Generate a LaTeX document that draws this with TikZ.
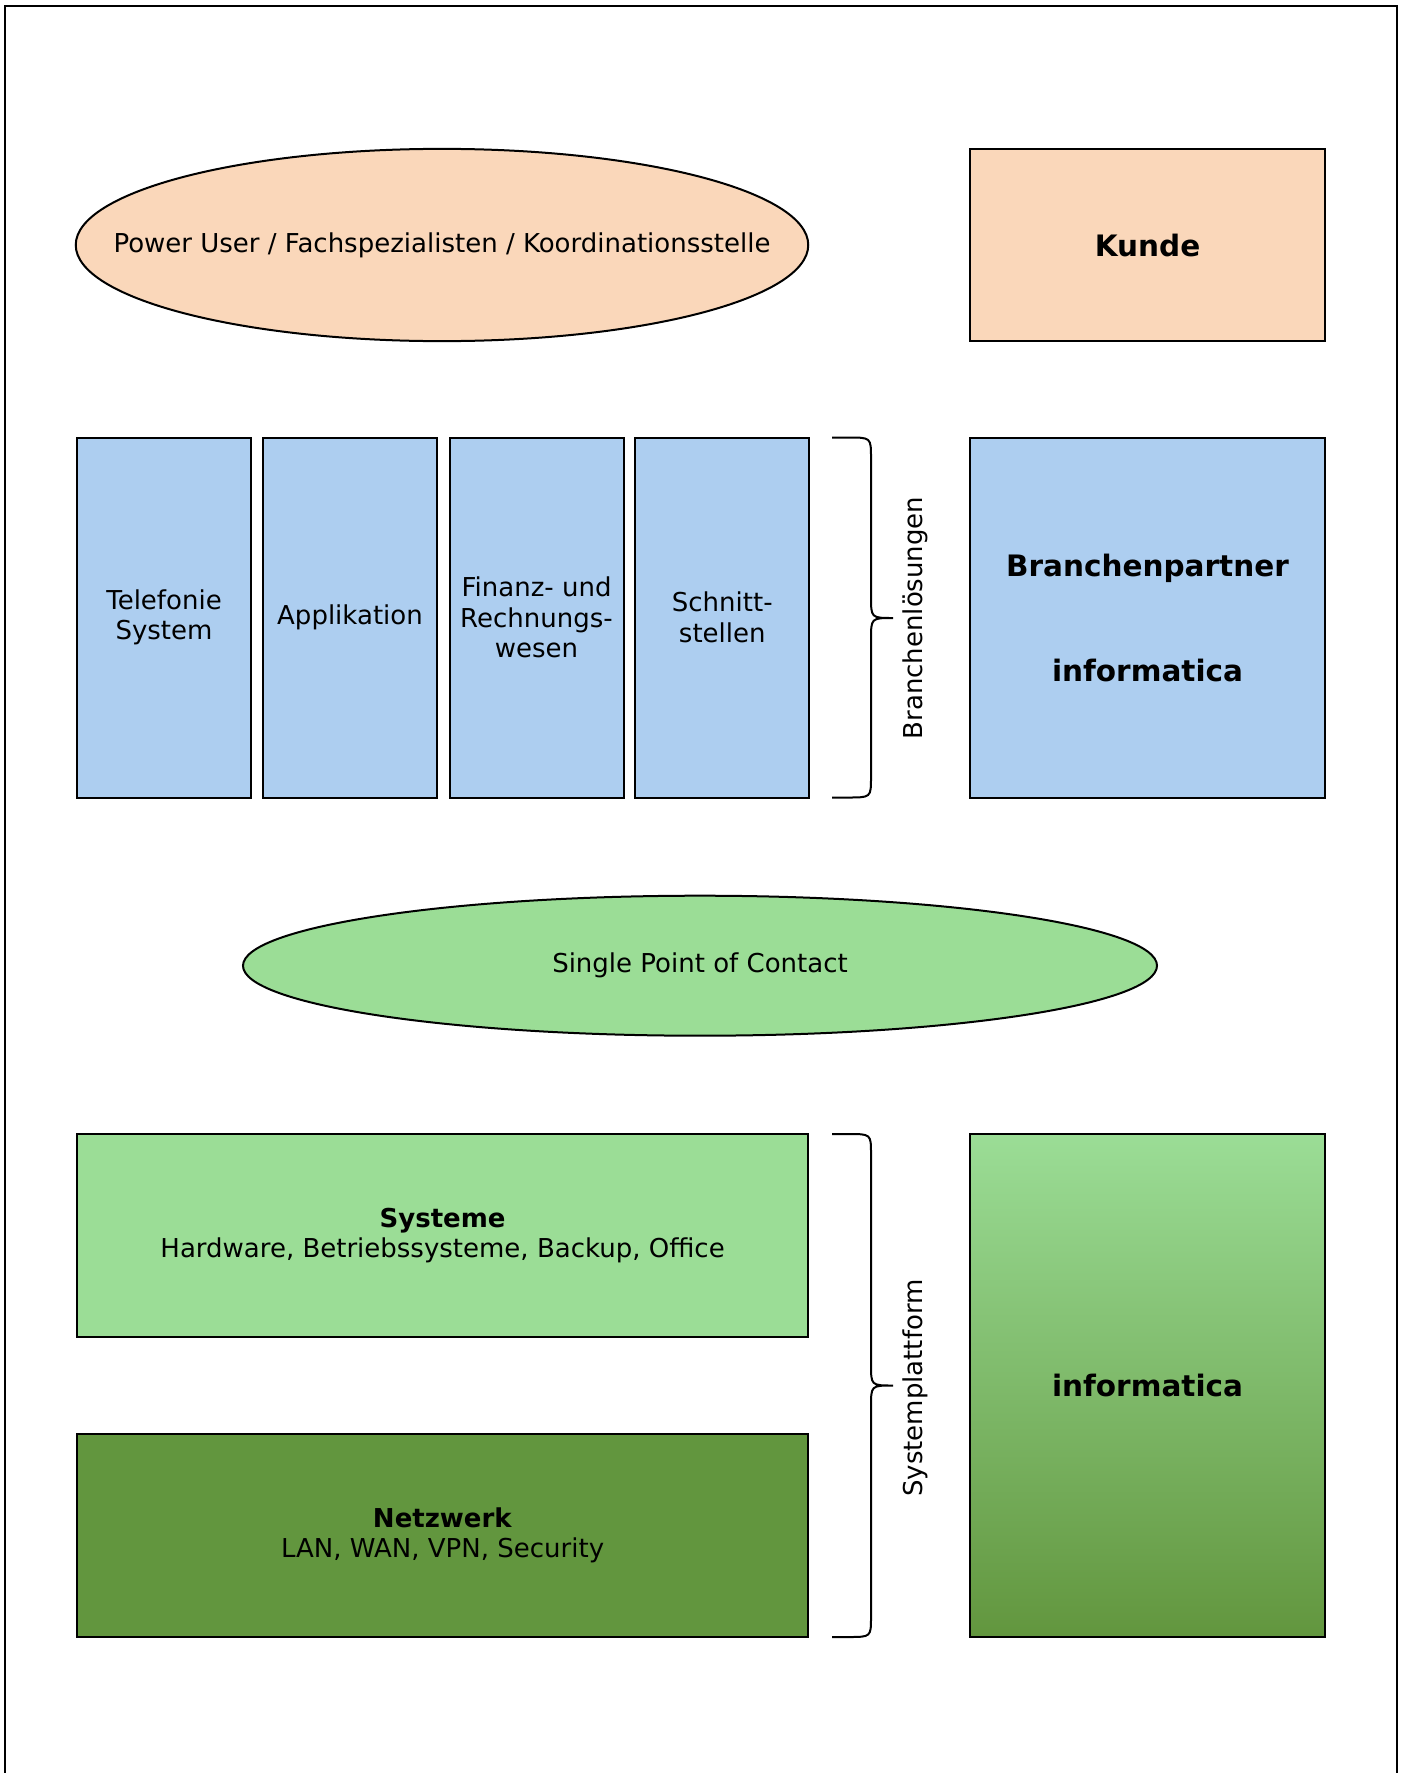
\documentclass[tikz,border=0pt]{standalone}
\usepackage{fontspec}
\setmainfont{DejaVu Sans}
\usepackage{tikz}
\usetikzlibrary{shapes.geometric,positioning}

\definecolor{peach}{RGB}{250,215,186}
\definecolor{lightblue}{RGB}{173,206,240}
\definecolor{lightgreen}{RGB}{155,221,150}
\definecolor{darkgreen}{RGB}{98,150,62}

\begin{document}
\begin{tikzpicture}[x=0.4pt,y=-0.4pt,line width=0.8pt,font=\fontsize{10.4}{12.2}\selectfont,
  box/.style={draw, rectangle, inner sep=0pt, align=center},
  oval/.style={draw, ellipse, inner sep=0pt, align=center},
  col/.style={box, fill=lightblue, minimum width=69.6pt, minimum height=144pt},
  head/.style={font=\fontsize{11.8}{14}\selectfont\bfseries}]
  \useasboundingbox (0,0) rectangle (1403,1773);
  \draw (5,1773) -- (5,6) -- (1397,6) -- (1397,1773);

  % Kunde
  \node[oval, fill=peach, minimum width=293pt, minimum height=76.9pt] (pu) at (442,245) {\makebox[0pt]{Power User / Fachspezialisten / Koordinationsstelle}};
  \node[box, fill=peach, head, minimum width=142pt, minimum height=76.8pt] (kunde) at (1147.5,245) {Kunde};

  % Branchenloesungen
  \node[col] (tel) at (164,617.5) {Telefonie\\System};
  \node[col] (app) at (350,617.5) {Applikation};
  \node[col] (fin) at (536.5,617.5) {Finanz- und\\Rechnungs-\\wesen};
  \node[col] (sst) at (722.3,617.5) {Schnitt-\\stellen};
  \draw (832,437.5) -- (848,437.5) .. controls (871,437.5) .. (871,458) -- (871,596)
    .. controls (871,618) .. (893,618) .. controls (871,618) .. (871,640) -- (871,777)
    .. controls (871,797.5) .. (848,797.5) -- (832,797.5);
  \node[rotate=90] (bl) at (915,618) {Branchenlösungen};
  \node[box, fill=lightblue, head, minimum width=142pt, minimum height=144pt] (bp) at (1147.5,617.5) {Branchenpartner\\[28pt]informatica};

  % SPOC
  \node[oval, fill=lightgreen, minimum width=365.6pt, minimum height=56pt] (spoc) at (700,965.7) {\makebox[0pt]{Single Point of Contact}};

  % Systemplattform
  \node[box, fill=lightgreen, minimum width=292.6pt, minimum height=81.4pt] (sys) at (442.6,1235.6) {\textbf{Systeme}\\Hardware, Betriebssysteme, Backup, Office};
  \node[box, fill=darkgreen, minimum width=292.6pt, minimum height=81.4pt] (netz) at (442.6,1535.3) {\textbf{Netzwerk}\\LAN, WAN, VPN, Security};
  \draw (832,1134) -- (848,1134) .. controls (871,1134) .. (871,1154) -- (871,1364)
    .. controls (871,1385.5) .. (893,1385.5) .. controls (871,1385.5) .. (871,1407) -- (871,1617)
    .. controls (871,1637) .. (848,1637) -- (832,1637);
  \node[rotate=90] (sp) at (915,1388) {Systemplattform};
  \node[box, top color=lightgreen, bottom color=darkgreen, head, minimum width=142pt, minimum height=201.4pt] (info) at (1147.5,1385.5) {informatica};
\end{tikzpicture}
\end{document}
